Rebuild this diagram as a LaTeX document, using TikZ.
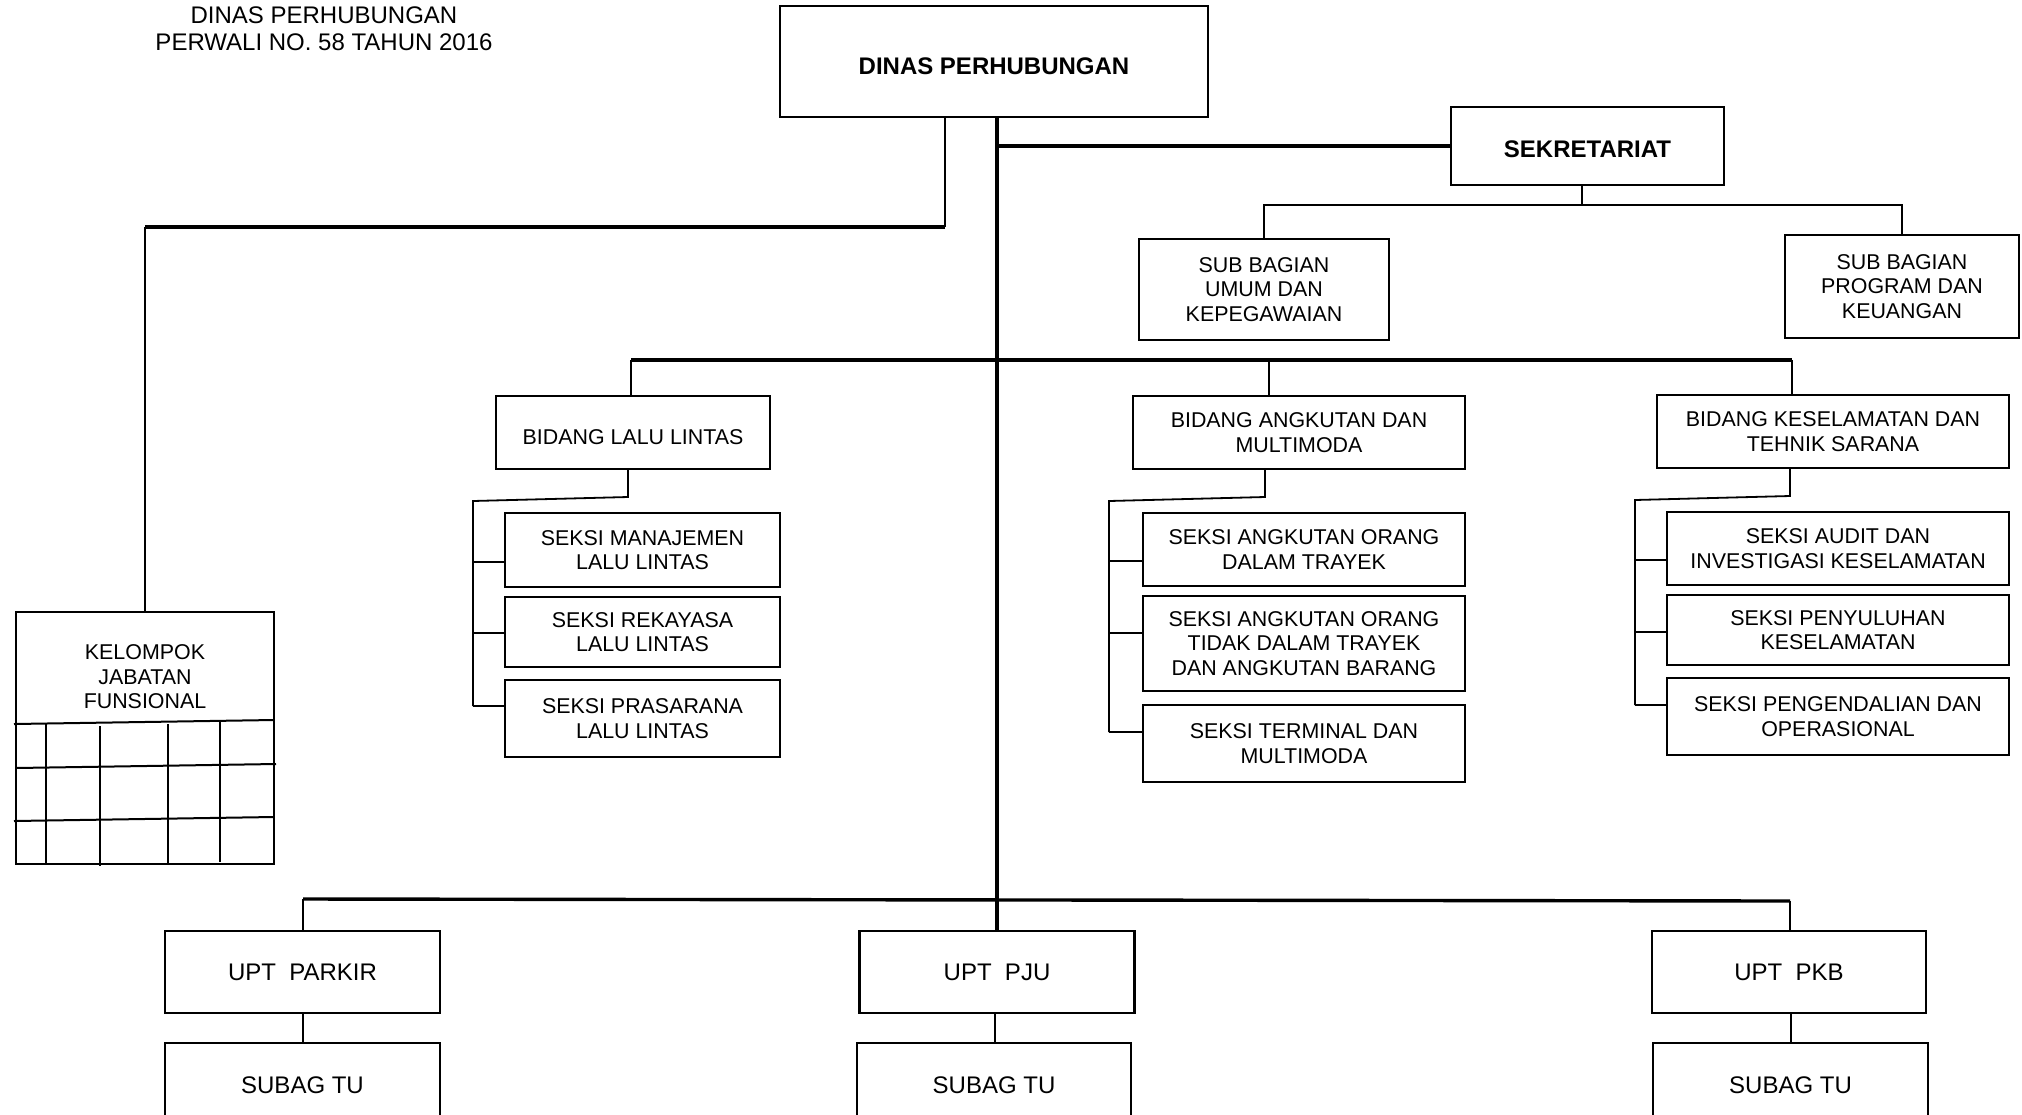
\documentclass[tikz,border=0pt]{standalone}
\usepackage{fontspec}
\setmainfont{Liberation Sans}
\begin{document}
\begin{tikzpicture}[x=0.5pt,y=-0.5pt,
  box/.style={draw, line width=1.1pt, align=center, inner sep=0pt,
    font=\fontsize{10.7}{12.25}\selectfont},
  bigbox/.style={box, font=\fontsize{12}{14}\selectfont},
  txt/.style={align=center, inner sep=0pt, font=\fontsize{10.7}{12.25}\selectfont},
  thin/.style={line width=0.9pt},
  thk/.style={line width=1.7pt},
  grid/.style={line width=1pt}]
\clip (0,0) rectangle (2022,1114);
\fill[white] (0,0) rectangle (2022,1114);

% title
\node[inner sep=0pt, font=\fontsize{12}{14}\selectfont] (t1) at (324,15.5) {DINAS PERHUBUNGAN};
\node[inner sep=0pt, font=\fontsize{12}{14}\selectfont] (t2) at (324,42.5) {PERWALI NO. 58 TAHUN 2016};

% boxes
\node[bigbox, minimum width=214pt, minimum height=55.5pt, text height=12.6pt, text depth=0pt, font=\bfseries\fontsize{12}{14}\selectfont] (dinas) at (994,61.5) {DINAS PERHUBUNGAN};
\node[bigbox, minimum width=136.5pt, minimum height=39pt, text height=11.2pt, text depth=0pt, font=\bfseries\fontsize{12}{14}\selectfont] (sekr) at (1587.5,146) {SEKRETARIAT};
\node[box, minimum width=125pt, minimum height=50.5pt] (umum) at (1264,289.5) {SUB BAGIAN\\UMUM DAN\\KEPEGAWAIAN};
\node[box, minimum width=117pt, minimum height=51.5pt] (prog) at (1902,286.5) {SUB BAGIAN\\PROGRAM DAN\\KEUANGAN};

\node[box, minimum width=137pt, minimum height=36.5pt, text height=11.6pt, text depth=0pt] (bll) at (633,432.5) {BIDANG LALU LINTAS};
\node[box, minimum width=166pt, minimum height=36.5pt] (bam) at (1299,432.5) {BIDANG ANGKUTAN DAN\\MULTIMODA};
\node[box, minimum width=176pt, minimum height=36.5pt] (bks) at (1833,431.5) {BIDANG KESELAMATAN DAN\\TEHNIK SARANA};

\node[box, minimum width=137.5pt, minimum height=37pt] (s1) at (642.5,550) {SEKSI MANAJEMEN\\LALU LINTAS};
\node[box, minimum width=137.5pt, minimum height=35pt] (s2) at (642.5,632) {SEKSI REKAYASA\\LALU LINTAS};
\node[box, minimum width=137.5pt, minimum height=38.5pt] (s3) at (642.5,718.5) {SEKSI PRASARANA\\LALU LINTAS};

\node[box, minimum width=161pt, minimum height=36.5pt] (m1) at (1304,549.5) {SEKSI ANGKUTAN ORANG\\DALAM TRAYEK};
\node[box, minimum width=161pt, minimum height=47.5pt] (m2) at (1304,643.5) {SEKSI ANGKUTAN ORANG\\TIDAK DALAM TRAYEK\\DAN ANGKUTAN BARANG};
\node[box, minimum width=161pt, minimum height=38.5pt] (m3) at (1304,743.5) {SEKSI TERMINAL DAN\\MULTIMODA};

\node[box, minimum width=171pt, minimum height=36.5pt] (r1) at (1838,548.5) {SEKSI AUDIT DAN\\INVESTIGASI KESELAMATAN};
\node[box, minimum width=171pt, minimum height=35pt] (r2) at (1838,630) {SEKSI PENYULUHAN\\KESELAMATAN};
\node[box, minimum width=171pt, minimum height=38.5pt] (r3) at (1838,716.5) {SEKSI PENGENDALIAN DAN\\OPERASIONAL};

% kelompok jabatan fungsional
\node[box, minimum width=129pt, minimum height=126pt] (kel) at (145,738) {};
\node[txt] (keltxt) at (145,677) {KELOMPOK\\JABATAN\\FUNSIONAL};
\draw[grid] (14,724) -- (274,720);
\draw[grid] (16,768) -- (276,764);
\draw[grid] (14,821) -- (274,817);
\draw[grid] (46,723) -- (46,864);
\draw[grid] (100,726) -- (100,866);
\draw[grid] (168,724) -- (168,864);
\draw[grid] (220,722) -- (220,862);

% UPT
\node[bigbox, minimum width=137.5pt, minimum height=41pt] (upt1) at (302.5,972) {UPT\ \ PARKIR};
\node[bigbox, minimum width=137.5pt, minimum height=41pt] (upt2) at (997,972) {UPT\ \ PJU};
\node[bigbox, minimum width=137pt, minimum height=41pt] (upt3) at (1789,972) {UPT\ \ PKB};
\node[bigbox, minimum width=137.5pt, minimum height=42pt] (tu1) at (302.5,1085) {SUBAG TU};
\node[bigbox, minimum width=137pt, minimum height=42pt] (tu2) at (994,1085) {SUBAG TU};
\node[bigbox, minimum width=137.5pt, minimum height=42pt] (tu3) at (1790.5,1085) {SUBAG TU};

% connectors
\coordinate (trunk) at (997,117);
\draw[thk] (dinas.south -| trunk) -- (upt2.north);
\draw[thk] (997,146) -- (sekr.west);
\draw[thin] (dinas.south -| 945,0) -- (945,227);
\draw[thk] (945,227) -- (145,227);
\draw[thin] (145,227) -- (kel.north);

\draw[thin] (sekr.south -| 1582,0) -- (1582,205);
\draw[thin] (umum.north) |- (1582,205) -| (prog.north);

\draw[thk] (631,360) -- (1792,360);
\draw[thin] (631,360) -- (bll.north -| 631,0);
\draw[thin] (1269,360) -- (bam.north -| 1269,0);
\draw[thin] (1792,360) -- (bks.north -| 1792,0);

\draw[thin] (bll.south -| 628,0) -- (628,497) -- (473,501) -- (473,706);
\draw[thin] (473,562) -- (s1.west |- 0,562);
\draw[thin] (473,633) -- (s2.west |- 0,633);
\draw[thin] (473,706) -- (s3.west |- 0,706);

\draw[thin] (bam.south -| 1265,0) -- (1265,497) -- (1109,501) -- (1109,732);
\draw[thin] (1109,561) -- (m1.west |- 0,561);
\draw[thin] (1109,633) -- (m2.west |- 0,633);
\draw[thin] (1109,732) -- (m3.west |- 0,732);

\draw[thin] (bks.south -| 1790,0) -- (1790,496) -- (1635,500) -- (1635,705);
\draw[thin] (1635,560) -- (r1.west |- 0,560);
\draw[thin] (1635,632) -- (r2.west |- 0,632);
\draw[thin] (1635,705) -- (r3.west |- 0,705);

\draw[thk] (303,899) -- (1790,901);
\draw[thin] (303,899) -- (upt1.north -| 303,0);
\draw[thin] (1790,901) -- (upt3.north -| 1790,0);

\draw[thin] (upt1.south -| 303,0) -- (tu1.north -| 303,0);
\draw[thin] (upt2.south -| 995,0) -- (tu2.north -| 995,0);
\draw[thin] (upt3.south -| 1791,0) -- (tu3.north -| 1791,0);
\end{tikzpicture}
\end{document}
